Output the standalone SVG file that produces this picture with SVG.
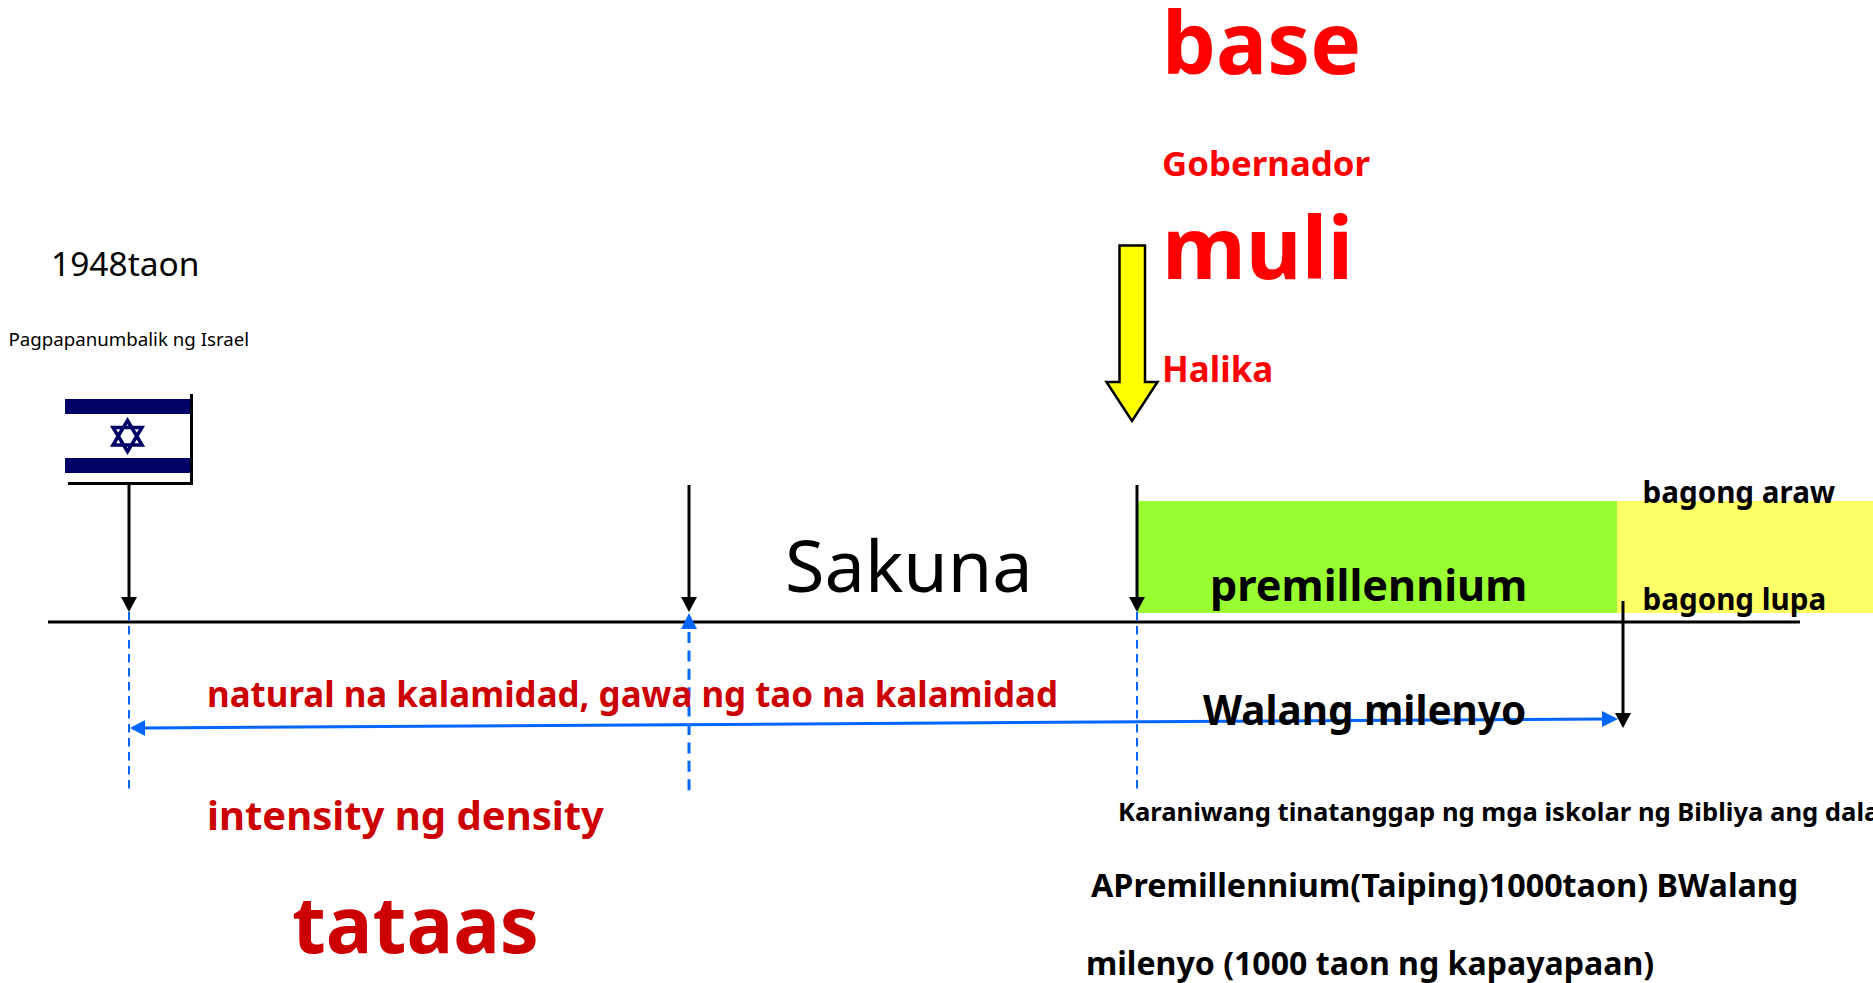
<svg xmlns="http://www.w3.org/2000/svg" width="1873" height="983" viewBox="0 0 1873 983">
<style>
text{font-family:"Noto Sans",sans-serif;white-space:pre}
.b{font-weight:700}
.r{fill:#f00;font-weight:700}
.d{fill:#c00;font-weight:700}
.k{stroke:#000;stroke-width:3;fill:none}
.ds{stroke:#06f;stroke-width:2;stroke-dasharray:8.500 5.500;fill:none}
.dt{stroke:#06f;stroke-width:3;stroke-dasharray:11 7.400;fill:none}
.hk{fill:#000}
.hb{fill:#06f}
</style>
<g id="bands">
<rect x="1138" y="501" width="480" height="112" fill="#9f3"/>
<rect x="1617" y="501" width="256" height="112" fill="#ff6"/>
</g>
<g id="connectors">
<line class="k" x1="48" y1="622" x2="1800" y2="622"/>
<path class="ds" d="M129 612V789"/>
<path class="dt" d="M689 632V793"/>
<path class="ds" d="M1137 612V790"/>
<path class="k" d="M129 484V600"/>
<path class="hk" d="M121 597H137L129 612Z"/>
<path class="k" d="M689 485V600"/>
<path class="hk" d="M681 597H697L689 612Z"/>
<path class="hb" d="M689 613L697 629H681Z"/>
<path class="k" d="M1137 485V600"/>
<path class="hk" d="M1129 597H1145L1137 612Z"/>
<path class="k" d="M1623 601V715"/>
<path class="hb" d="M1618 719L1602 711V727Z"/>
<path class="hk" d="M1615 713H1631L1623 728Z"/>
<path d="M144 728L1604 719" stroke="#06f" stroke-width="3" fill="none"/>
<path class="hb" d="M130 728L145 720V736Z"/>
</g>
<g id="flag">
<rect x="65" y="399" width="125" height="15" fill="#006"/>
<rect x="65" y="458" width="125" height="15" fill="#006"/>
<path d="M127.500 420.500L142 445H113Z M127.500 451.500L113 427.500H142Z" fill="none" stroke="#006" stroke-width="3.500"/>
<path d="M191.500 394V483.500H68" fill="none" stroke="#000" stroke-width="3"/>
</g>
<g id="arrow-yellow">
<path d="M1119.500 245.500H1145V382H1157.500L1132 421L1106.500 382H1119.500Z" fill="#ff0" stroke="#000" stroke-width="2.500"/>
</g>
<g id="texts">
<text class="r" x="1162" y="74" font-size="85.500">base</text>
<text class="r" x="1162" y="176" font-size="34.800">Gobernador</text>
<text class="r" x="1162" y="279" font-size="86">muli</text>
<text class="r" x="1162" y="381.500" font-size="35">Halika</text>
<text x="51" y="276" font-size="33.500">1948taon</text>
<text x="8.500" y="346" font-size="18.700">Pagpapanumbalik ng Israel</text>
<text x="785" y="592" font-size="72">Sakuna</text>
<text class="b" x="1210" y="601" font-size="43.200">premillennium</text>
<text class="b" x="1642.500" y="503" font-size="29.600">bagong araw</text>
<text class="b" x="1642.500" y="610" font-size="29.600">bagong lupa</text>
<text class="d" x="207" y="707" font-size="34.900">natural na kalamidad, gawa ng tao na kalamidad</text>
<text class="b" x="1203" y="725" font-size="40.400">Walang milenyo</text>
<text class="d" x="207" y="830" font-size="40">intensity ng density</text>
<text class="d" x="292" y="953" font-size="78">tataas</text>
<text class="b" x="1118" y="821" font-size="25.600">Karaniwang tinatanggap ng mga iskolar ng Bibliya ang dalawang pananaw:</text>
<text class="b" x="1091" y="897" font-size="32.300">APremillennium(Taiping)1000taon) BWalang</text>
<text class="b" x="1086" y="975" font-size="32.100">milenyo (1000 taon ng kapayapaan)</text>
</g>
</svg>
